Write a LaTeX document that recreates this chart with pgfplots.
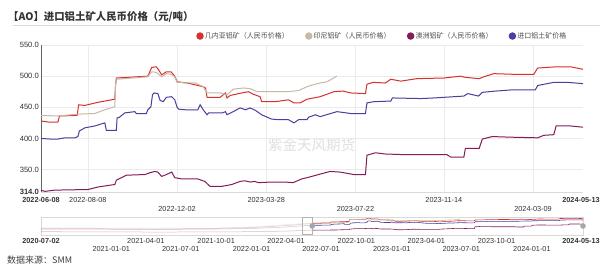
\documentclass[border=0pt]{standalone}
\usepackage{pgfplots}
\pgfplotsset{compat=1.18}
\usepackage{pgfplotstable}
\usepackage{fontspec}
\setmainfont{Liberation Sans}
\newfontfamily\cjk{Noto Sans CJK SC}
\definecolor{cred}{HTML}{D7312F}
\definecolor{ctan}{HTML}{C8B8A6}
\definecolor{cpur}{HTML}{851B59}
\definecolor{cblu}{HTML}{4B3E9C}
\definecolor{ctxt}{HTML}{333333}
\definecolor{cgrid}{HTML}{EBEBEB}

% Guinea bauxite (RMB)
\pgfplotstableread{
d v
0 428
12 426
22 426
24 436
47 437
49 454
57 453
74 458
83 460
96 463
97 486
98 497
139 500
144 514
150 515
153 510
157 502
163 507
169 507
174 500
177 491
190 489
201 486
211 483
214 481
216 466
233 466
240 473
242 465
246 469
261 473
270 475
276 471
285 467
287 459
305 459
322 462
329 457
337 457
346 463
363 467
381 475
393 476
403 473
422 472
424 487
432 490
448 489
455 495
468 492
489 496
524 497
546 500
552 498
570 496
576 499
589 504
613 503
641 503
646 513
670 515
689 515
705 511
}\tabred

% Indonesia bauxite (RMB)
\pgfplotstableread{
d v
0 437
22 436
48 439
70 440
83 446
96 451
97 486
98 495
129 498
139 499
144 507
150 506
157 499
163 504
169 503
174 499
177 490
190 489
201 489
211 483
216 473
233 473
242 470
250 479
263 481
272 480
281 475
322 475
335 477
348 484
363 489
372 491
385 500
}\tabtan

% Australia bauxite (RMB)
\pgfplotstableread{
d v
0 317
5 315
18 317
61 318
74 322
90 325
96 326
98 333
111 341
135 342
142 345
148 347
152 346
157 339
163 342
170 346
174 337
183 335
204 335
213 331
220 323
235 323
248 326
259 331
265 332
272 330
278 331
283 329
300 330
317 330
328 329
339 335
346 337
361 342
376 347
389 346
407 342
422 342
424 373
435 377
448 375
472 374
528 374
533 370
550 370
552 384
570 384
574 399
587 403
611 402
646 401
654 405
667 406
670 420
689 420
705 418
}\tabpur

% Imported bauxite price
\pgfplotstableread{
d v
0 400
12 399
22 399
31 401
44 401
48 403
50 412
57 417
70 420
83 425
85 413
98 413
99 433
102 434
109 441
122 443
124 440
137 440
139 446
143 451
145 470
147 473
152 472
155 461
159 459
163 466
170 467
174 462
177 450
179 447
188 446
204 446
207 454
211 446
216 438
218 441
236 441
240 443
242 438
250 443
259 449
266 446
272 449
279 445
287 438
300 431
311 430
322 430
329 425
335 430
346 430
348 434
357 438
363 435
385 443
403 440
422 440
424 457
433 459
455 460
457 465
494 464
511 465
524 466
550 468
555 472
569 468
574 474
591 476
613 478
643 478
646 485
667 490
685 490
705 488
}\tabblu

% earlier history shown faintly in the range slider (days from 2020-07-02)
\pgfplotstableread{
d r t p b
0 345 355 290 335
150 340 352 287 332
300 335 348 284 328
450 345 350 286 335
550 360 370 290 345
640 395 410 300 370
706 428 437 317 400
}\tabold

\begin{document}
\begin{tikzpicture}[x=1pt,y=1pt]
\useasboundingbox (0,0) rectangle (600,266);
\fill[white] (0,0) rectangle (600,266);
\node[anchor=west, inner sep=0pt, text=ctxt] at (8,249) {\cjk\bfseries\fontsize{10.4}{12}\selectfont 【AO】进口铝土矿人民币价格（元/吨）};
\draw[draw=black!15, line width=0.6pt] (13,240.3) -- (600,240.3);
\node[text=black!12] at (311.5,121) {\cjk\fontsize{14.5}{15}\selectfont 紫金天风期货};

\begin{axis}[
  at={(41pt,74pt)}, anchor=south west, scale only axis,
  width=542pt, height=147pt,
  xmin=0, xmax=705, ymin=314, ymax=550,
  axis lines*=left, axis line style={-},
  x axis line style={draw=black!15},
  y axis line style={draw=black!60, line width=0.7pt},
  tick style={draw=none},
  ytick={314,350,400,450,500,550},
  yticklabels={\textbf{314.0},350.0,400.0,450.0,500.0,550.0},
  ymajorgrids, grid style={draw=cgrid, line width=0.6pt},
  xtick={0,61,177,293,409,524,640,705},
  xticklabels={\textbf{2022-06-08},2022-08-08,{\strut\\2022-12-02},2023-03-28,{\strut\\2023-07-22},2023-11-14,{\strut\\2024-03-09},\textbf{2024-05-13}\kern4pt},
  xticklabel style={align=center, font=\fontsize{7.3}{8.4}\selectfont, text=ctxt, inner sep=1.5pt, yshift=-4pt},
  yticklabel style={font=\fontsize{7.6}{9}\selectfont, text=ctxt, inner sep=2pt},
  extra x ticks={61,177,293,409,524,640},
  extra x tick labels={},
  extra x tick style={grid=major, tick style={draw=none}},
  clip=false,
  legend columns=4,
  legend style={at={(0.629,1.061)}, anchor=center, draw=none, fill=none,
    font=\cjk\fontsize{7}{8}\selectfont, text=black!70,
    nodes={inner sep=1.2pt},
    /tikz/every even column/.append style={column sep=15pt}},
  legend image code/.code={\fill[#1] (3.2pt,0pt) circle (3.2pt);},
]
\addplot[cred, line width=1pt] table[x=d, y=v] {\tabred};
\addlegendentry{几内亚铝矿（人民币价格）}
\addplot[ctan, line width=1pt] table[x=d, y=v] {\tabtan};
\addlegendentry{印尼铝矿（人民币价格）}
\addplot[cpur, line width=1pt] table[x=d, y=v] {\tabpur};
\addlegendentry{澳洲铝矿（人民币价格）}
\addplot[cblu, line width=1pt] table[x=d, y=v] {\tabblu};
\addlegendentry{进口铝土矿价格}
\end{axis}

% range slider
\begin{axis}[
  at={(41pt,31pt)}, anchor=south west, scale only axis,
  width=542pt, height=18pt,
  xmin=0, xmax=1411, ymin=234, ymax=538,
  axis line style={draw=black!15, line width=0.6pt},
  ytick=\empty,
  tick style={draw=none},
  xtick={0,183,273,364,456,548,638,729,821,913,1003,1094,1186,1278,1411},
  xticklabels={\textbf{2020-07-02},{\strut\\2021-01-01},2021-04-01,{\strut\\2021-07-01},2021-10-01,{\strut\\2022-01-01},2022-04-01,{\strut\\2022-07-01},2022-10-01,{\strut\\2023-01-01},2023-04-01,{\strut\\2023-07-01},2023-10-01,{\strut\\2024-01-01},\textbf{2024-05-13}\kern4pt},
  xticklabel style={align=center, font=\fontsize{7.3}{8}\selectfont, text=ctxt, inner sep=1.5pt, yshift=-1.5pt},
  clip=false,
]
\addplot[cred, line width=0.5pt, opacity=0.3] table[x=d, y=r] {\tabold};
\addplot[ctan, line width=0.5pt, opacity=0.3] table[x=d, y=t] {\tabold};
\addplot[cpur, line width=0.5pt, opacity=0.3] table[x=d, y=p] {\tabold};
\addplot[cblu, line width=0.5pt, opacity=0.3] table[x=d, y=b] {\tabold};
\addplot[cred, line width=0.6pt] table[x expr=\thisrow{d}+706, y=v] {\tabred};
\addplot[ctan, line width=0.6pt] table[x expr=\thisrow{d}+706, y=v] {\tabtan};
\addplot[cpur, line width=0.6pt] table[x expr=\thisrow{d}+706, y=v] {\tabpur};
\addplot[cblu, line width=0.6pt] table[x expr=\thisrow{d}+706, y=v] {\tabblu};
\draw[black!30, line width=0.5pt] (axis cs:680,240) rectangle (axis cs:706,532);
\fill[black!35] (axis cs:706,386) circle (2.8pt);
\fill[black!35] (axis cs:1411,386) circle (2.8pt);
\end{axis}

\node[anchor=west, inner sep=0pt, text=black!75] at (7,6) {\cjk\fontsize{9}{10}\selectfont 数据来源：SMM};
\end{tikzpicture}
\end{document}
